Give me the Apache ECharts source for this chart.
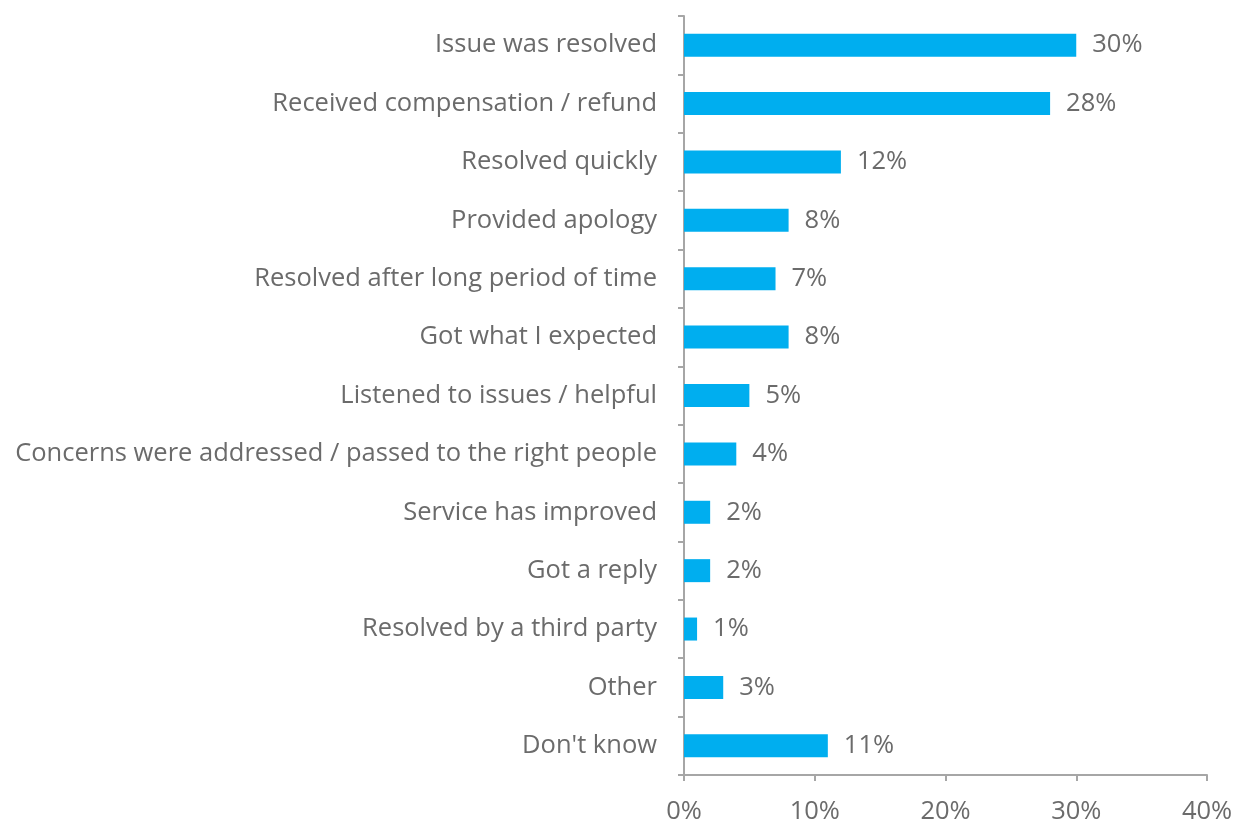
<!DOCTYPE html>
<html>
<head>
<meta charset="utf-8">
<script src="https://cdn.jsdelivr.net/npm/echarts@6/dist/echarts.min.js"></script>
<style>
  html, body { margin: 0; padding: 0; background: #fff; }
  #chart { width: 1237px; height: 823px; }
</style>
</head>
<body>
<div id="chart"></div>
<script>
// Reasons for satisfaction, top to bottom
const categories = [
  'Issue was resolved',
  'Received compensation / refund',
  'Resolved quickly',
  'Provided apology',
  'Resolved after long period of time',
  'Got what I expected',
  'Listened to issues / helpful',
  'Concerns were addressed / passed to the right people',
  'Service has improved',
  'Got a reply',
  'Resolved by a third party',
  'Other',
  "Don't know"
];
// Share of respondents, percent
const values = [30, 28, 12, 8, 7, 8, 5, 4, 2, 2, 1, 3, 11];
const xTicks = [0, 10, 20, 30, 40];

const textColor = '#6b6b6b';
const axisColor = '#a6a6a6';
const font = '"Open Sans", sans-serif';
const fontSize = 25.5;

const chart = echarts.init(document.getElementById('chart'), null, { renderer: 'canvas' });
chart.setOption({
  animation: false,
  grid: {
    left: 684, right: 30, top: 16, bottom: 48,
    containLabel: false,
    outerBoundsMode: 'none'
  },
  xAxis: {
    type: 'value',
    min: xTicks[0],
    max: xTicks[xTicks.length - 1],
    interval: xTicks[1] - xTicks[0],
    axisLine: { show: true, lineStyle: { color: axisColor, width: 2 } },
    axisTick: { show: true, length: 6, lineStyle: { color: axisColor, width: 2 } },
    splitLine: { show: false },
    axisLabel: {
      formatter: v => v + '%',
      color: textColor,
      fontFamily: font,
      fontSize: fontSize,
      margin: 24
    }
  },
  yAxis: {
    type: 'category',
    data: categories,
    inverse: true,
    axisLine: { show: true, lineStyle: { color: axisColor, width: 2 } },
    axisTick: { show: true, length: 6, lineStyle: { color: axisColor, width: 2 } },
    axisLabel: {
      color: textColor,
      fontFamily: font,
      fontSize: fontSize,
      margin: 27,
      padding: [3, 0, 0, 0]
    }
  },
  series: [{
    type: 'bar',
    data: values,
    barWidth: 23,
    itemStyle: { color: '#00aeef' },
    label: {
      show: true,
      position: 'right',
      distance: 16,
      padding: [3, 0, 0, 0],
      formatter: p => p.value + '%',
      color: textColor,
      fontFamily: font,
      fontSize: fontSize
    }
  }]
});
</script>
</body>
</html>
